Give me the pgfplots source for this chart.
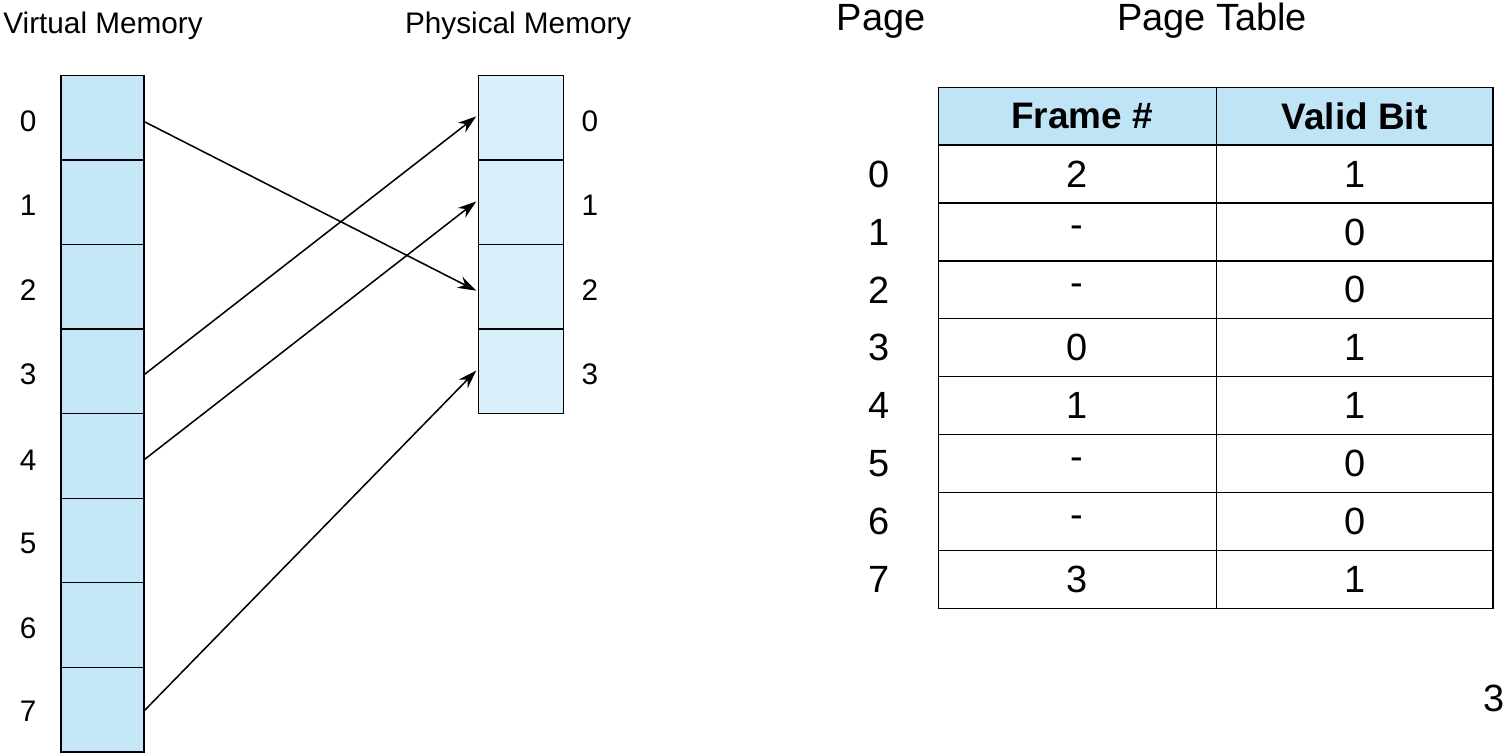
\documentclass[border=0pt]{standalone}
\usepackage{pgfplots}
\pgfplotsset{compat=1.18}
\usetikzlibrary{arrows.meta}
\usepackage{fontspec}
\setmainfont{Liberation Sans}
\definecolor{vm}{HTML}{C4E6F7}
\definecolor{pm}{HTML}{D8F0FA}
\definecolor{hd}{HTML}{BFE4F5}
\begin{document}
\begin{tikzpicture}
\begin{axis}[width=1508pt,height=754pt,scale only axis,xmin=0,xmax=1508,ymin=0,ymax=754,axis lines=none,clip=false]
% virtual memory
\addplot[draw=black,fill=vm,line width=1.2pt] coordinates {(87,14)(168,14)(168,674)(87,674)} -- cycle;
\addplot[black,line width=1.2pt] coordinates {(87,591.5)(168,591.5)};
\addplot[black,line width=1.2pt] coordinates {(87,509)(168,509)};
\addplot[black,line width=1.2pt] coordinates {(87,426.5)(168,426.5)};
\addplot[black,line width=1.2pt] coordinates {(87,344)(168,344)};
\addplot[black,line width=1.2pt] coordinates {(87,261.5)(168,261.5)};
\addplot[black,line width=1.2pt] coordinates {(87,179)(168,179)};
\addplot[black,line width=1.2pt] coordinates {(87,96.5)(168,96.5)};
% physical memory
\addplot[draw=black,fill=pm,line width=1.2pt] coordinates {(494,344)(577,344)(577,674)(494,674)} -- cycle;
\addplot[black,line width=1.2pt] coordinates {(494,591.5)(577,591.5)};
\addplot[black,line width=1.2pt] coordinates {(494,509)(577,509)};
\addplot[black,line width=1.2pt] coordinates {(494,426.5)(577,426.5)};
% arrows
\addplot[black,line width=1.5pt,-{Stealth[length=18pt,width=12pt]}] coordinates {(168,629)(492,464)};
\addplot[black,line width=1.5pt,-{Stealth[length=18pt,width=12pt]}] coordinates {(168,382)(492,634)};
\addplot[black,line width=1.5pt,-{Stealth[length=18pt,width=12pt]}] coordinates {(168,299)(492,551)};
\addplot[black,line width=1.5pt,-{Stealth[length=18pt,width=12pt]}] coordinates {(168,54)(492,386)};
% table
\addplot[draw=black,fill=hd,line width=1.2pt] coordinates {(943,606)(1484,606)(1484,662)(943,662)} -- cycle;
\addplot[draw=black,fill=white,line width=1.2pt] coordinates {(943,154)(1484,154)(1484,606)(943,606)} -- cycle;
\addplot[black,line width=1.2pt] coordinates {(1214,154)(1214,662)};
\addplot[black,line width=1.2pt] coordinates {(943,549.5)(1484,549.5)};
\addplot[black,line width=1.2pt] coordinates {(943,493)(1484,493)};
\addplot[black,line width=1.2pt] coordinates {(943,436.5)(1484,436.5)};
\addplot[black,line width=1.2pt] coordinates {(943,380)(1484,380)};
\addplot[black,line width=1.2pt] coordinates {(943,323.5)(1484,323.5)};
\addplot[black,line width=1.2pt] coordinates {(943,267)(1484,267)};
\addplot[black,line width=1.2pt] coordinates {(943,210.5)(1484,210.5)};
% texts
\begin{scope}[every node/.style={font=\fontsize{29}{34}\selectfont}]
\node at (axis cs:128,722) {Virtual Memory};
\node at (axis cs:533,722) {Physical Memory};
\node at (axis cs:55,629) {0};\node at (axis cs:55,547) {1};\node at (axis cs:55,465) {2};\node at (axis cs:55,382) {3};
\node at (axis cs:55,299) {4};\node at (axis cs:55,217) {5};\node at (axis cs:55,135) {6};\node at (axis cs:55,54) {7};
\node at (axis cs:603,629) {0};\node at (axis cs:603,547) {1};\node at (axis cs:603,465) {2};\node at (axis cs:603,382) {3};
\end{scope}
\begin{scope}[every node/.style={font=\fontsize{37}{44}\selectfont}]
\node at (axis cs:887,727) {Page};
\node at (axis cs:1210,727) {Page Table};
\node[font=\fontsize{36}{42}\selectfont\bfseries] at (axis cs:1083,634) {Frame \#};
\node[font=\fontsize{36}{42}\selectfont\bfseries] at (axis cs:1349,634) {Valid Bit};
\node at (axis cs:885,577.75) {0};\node at (axis cs:885,521.25) {1};\node at (axis cs:885,464.75) {2};\node at (axis cs:885,408.25) {3};
\node at (axis cs:885,351.75) {4};\node at (axis cs:885,295.25) {5};\node at (axis cs:885,238.75) {6};\node at (axis cs:885,182.25) {7};
\node at (axis cs:1078,577.75) {2};\node at (axis cs:1078,521.25) {-};\node at (axis cs:1078,464.75) {-};\node at (axis cs:1078,408.25) {0};
\node at (axis cs:1078,351.75) {1};\node at (axis cs:1078,295.25) {-};\node at (axis cs:1078,238.75) {-};\node at (axis cs:1078,182.25) {3};
\node at (axis cs:1349,577.75) {1};\node at (axis cs:1349,521.25) {0};\node at (axis cs:1349,464.75) {0};\node at (axis cs:1349,408.25) {1};
\node at (axis cs:1349,351.75) {1};\node at (axis cs:1349,295.25) {0};\node at (axis cs:1349,238.75) {0};\node at (axis cs:1349,182.25) {1};
\node at (axis cs:1485,66) {3};
\end{scope}
\end{axis}
\end{tikzpicture}
\end{document}
